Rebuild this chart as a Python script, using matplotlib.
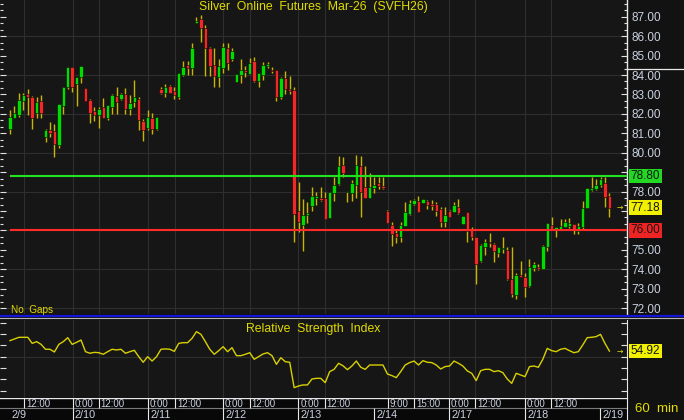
import matplotlib
matplotlib.use("Agg")
import matplotlib.pyplot as plt
import matplotlib.transforms as mtransforms
from matplotlib.lines import Line2D
from matplotlib.ticker import MultipleLocator, FuncFormatter

plt.rcParams['font.family'] = ['Liberation Sans', 'DejaVu Sans']

# --- data (60 min bars, SVFH26) ---
opens = [
    81.20, 81.77, 81.94, 82.68, 83.02, 82.88, 82.03, 82.66, 80.79, 81.17,
    81.12, 80.40, 82.40, 83.37, 84.39, 83.54, 83.88, 83.31, 82.71, 82.16,
    81.94, 82.37, 81.77, 82.37, 82.92, 82.76, 83.02, 82.23, 82.63, 82.76,
    81.65, 81.26, 81.77, 81.20, 83.26, 83.06, 83.43, 83.19, 82.88, 84.00,
    84.51, 84.34, 86.66, 86.86, 86.44, 85.41, 84.51, 83.91, 84.34, 85.41,
    84.81, 83.66, 84.00, 84.26, 84.05, 84.72, 83.71, 84.00, 84.46, 84.26,
    84.26, 82.85, 83.83, 83.26, 83.23, 77.00, 76.28, 76.82, 77.26, 77.67,
    77.67, 77.67, 76.66, 77.93, 78.37, 79.37, 77.99, 77.94, 78.34, 79.32,
    78.25, 77.65, 78.17, 78.43, 78.30, 77.00, 76.28, 75.88, 75.65, 76.23,
    76.85, 77.36, 77.53, 77.40, 77.53, 77.36, 77.36, 77.09, 76.45, 77.02,
    76.96, 77.22, 76.33, 76.96, 76.02, 75.65, 74.44, 75.13, 75.42, 75.30,
    74.82, 75.03, 74.99, 73.48, 72.68, 73.71, 73.59, 73.14, 74.05, 74.13,
    74.00, 75.13, 76.28, 76.06, 76.06, 76.19, 76.23, 76.33, 75.99, 76.16,
    77.14, 78.08, 78.12, 78.34, 78.43, 77.77]
highs = [
    82.20, 82.40, 83.09, 83.09, 83.26, 82.92, 82.88, 82.97, 81.20, 81.60,
    81.48, 82.51, 83.37, 84.39, 84.39, 83.88, 84.46, 83.31, 82.78, 82.34,
    82.34, 82.80, 82.46, 83.00, 83.37, 83.06, 83.31, 82.97, 83.74, 82.85,
    81.72, 82.20, 82.03, 81.86, 83.37, 83.54, 83.49, 83.37, 84.12, 84.72,
    84.72, 85.63, 86.97, 87.09, 86.57, 85.46, 85.37, 84.81, 85.63, 85.63,
    85.41, 84.05, 84.81, 84.46, 84.86, 84.91, 84.12, 84.69, 84.69, 84.43,
    84.26, 83.88, 84.22, 83.95, 83.40, 78.51, 77.62, 77.48, 78.25, 77.99,
    78.25, 77.99, 77.99, 78.77, 79.83, 79.80, 77.99, 78.60, 79.88, 79.83,
    79.32, 78.94, 78.77, 78.77, 78.77, 77.05, 76.45, 76.07, 76.45, 77.48,
    77.57, 77.60, 77.77, 77.60, 77.57, 77.57, 77.48, 77.22, 77.22, 77.05,
    77.45, 77.60, 76.74, 76.96, 76.16, 75.68, 75.30, 75.54, 75.85, 75.34,
    75.16, 75.65, 75.13, 75.13, 73.79, 74.44, 73.82, 74.51, 74.39, 74.27,
    75.25, 76.40, 76.68, 76.19, 76.57, 76.57, 76.62, 76.33, 76.40, 77.53,
    78.17, 78.77, 78.63, 78.77, 78.73, 77.94]
lows = [
    80.96, 81.77, 81.82, 82.20, 81.94, 81.20, 81.77, 81.77, 80.57, 80.79,
    79.76, 80.23, 81.98, 83.26, 83.14, 82.40, 83.61, 82.68, 81.51, 81.65,
    81.29, 81.77, 81.68, 81.99, 81.99, 82.71, 81.98, 81.94, 82.34, 81.17,
    80.62, 81.17, 80.96, 81.17, 83.02, 82.88, 83.09, 82.75, 82.75, 83.95,
    84.00, 84.00, 86.66, 85.72, 83.95, 83.95, 83.37, 83.37, 84.09, 84.26,
    84.72, 83.66, 83.61, 83.88, 84.05, 83.66, 83.37, 83.74, 84.34, 84.09,
    82.68, 82.76, 83.02, 83.02, 75.42, 75.93, 74.96, 76.37, 77.02, 77.31,
    77.53, 76.57, 76.64, 77.53, 78.34, 78.77, 77.48, 77.53, 77.65, 76.68,
    77.65, 77.65, 77.91, 78.12, 78.12, 76.37, 75.20, 75.37, 75.42, 76.23,
    76.79, 77.31, 76.96, 77.40, 77.09, 77.05, 76.74, 76.16, 76.16, 76.71,
    76.96, 76.85, 76.33, 75.42, 75.51, 73.24, 74.39, 74.74, 75.16, 74.39,
    74.62, 74.85, 73.45, 72.59, 72.46, 73.59, 72.59, 73.10, 73.93, 73.96,
    74.00, 74.96, 76.02, 75.65, 76.06, 76.16, 76.11, 75.82, 75.82, 76.06,
    77.14, 78.05, 78.08, 78.25, 77.22, 76.68]
closes = [
    81.82, 82.03, 82.71, 82.97, 82.88, 81.77, 82.63, 82.06, 81.17, 81.03,
    80.45, 82.51, 83.37, 84.39, 83.40, 83.88, 84.46, 82.68, 82.06, 81.94,
    82.25, 81.80, 82.46, 82.97, 82.63, 83.02, 82.23, 82.58, 82.85, 81.68,
    81.17, 81.82, 81.20, 81.82, 83.09, 83.40, 83.09, 82.97, 84.12, 84.39,
    84.37, 85.37, 86.80, 86.40, 85.37, 84.46, 83.95, 84.46, 85.46, 84.63,
    85.25, 84.05, 84.26, 84.17, 84.63, 83.71, 84.09, 84.51, 84.57, 84.20,
    82.85, 83.83, 83.26, 83.19, 76.85, 76.45, 76.79, 76.87, 77.79, 77.77,
    77.59, 76.59, 77.99, 78.34, 79.32, 78.94, 77.99, 78.43, 79.37, 77.99,
    77.65, 78.22, 78.34, 78.29, 78.20, 76.37, 75.82, 75.65, 76.28, 76.96,
    77.43, 77.57, 76.96, 77.60, 77.31, 77.26, 77.02, 76.45, 76.82, 76.71,
    77.31, 76.88, 76.74, 75.99, 75.68, 74.27, 75.25, 75.42, 75.34, 74.96,
    75.13, 75.05, 73.48, 72.73, 73.71, 73.59, 73.10, 74.13, 74.27, 74.03,
    75.20, 76.40, 76.02, 76.16, 76.23, 76.45, 76.37, 76.02, 76.23, 77.14,
    78.17, 78.17, 78.34, 78.63, 77.74, 77.18]
rsi = [
    64.1, 65.5, 67.0, 67.0, 67.0, 61.7, 63.2, 60.8, 56.5, 56.5,
    54.1, 60.8, 63.2, 66.7, 60.8, 62.6, 64.6, 54.4, 53.0, 53.8,
    53.5, 52.1, 54.4, 56.5, 55.9, 56.5, 53.0, 54.4, 55.6, 50.0,
    45.1, 50.0, 46.2, 50.0, 56.5, 56.8, 56.5, 54.7, 61.7, 62.3,
    62.3, 66.1, 72.0, 69.6, 63.2, 56.5, 52.1, 55.3, 58.8, 54.4,
    57.9, 50.9, 50.9, 52.1, 53.5, 47.7, 50.0, 52.4, 53.5, 50.9,
    43.3, 49.1, 45.6, 45.1, 22.8, 24.3, 25.2, 25.2, 30.4, 31.0,
    31.0, 27.2, 36.9, 38.9, 44.2, 42.0, 38.6, 41.8, 46.2, 40.7,
    38.9, 42.7, 42.7, 42.7, 42.7, 34.8, 33.4, 31.6, 36.9, 42.7,
    44.8, 46.2, 42.7, 46.5, 45.1, 44.8, 42.7, 39.2, 41.3, 41.8,
    46.2, 44.2, 41.8, 37.5, 35.4, 29.0, 37.7, 38.9, 38.9, 36.9,
    37.7, 36.0, 30.4, 26.6, 35.4, 33.9, 32.5, 41.3, 41.8, 40.7,
    47.7, 57.3, 55.3, 54.4, 56.5, 57.3, 55.3, 53.5, 54.4, 60.3,
    66.7, 67.0, 67.6, 69.6, 61.7, 54.92]
assert len(opens) == len(highs) == len(lows) == len(closes) == len(rsi)

resistance = 78.80
support = 76.00
prev_settle = 84.29

# x axis: bar positions where time / date labels start
time_ticks = [3.2, 14.1, 20.0, 31.1, 37.2, 48.0, 54.0, 64.9, 70.9, 85.1,
              91.0, 98.9, 104.7, 116.0, 121.9]
time_labels = ['12:00', '0:00', '12:00', '0:00', '12:00', '0:00', '12:00',
               '0:00', '12:00', '9:00', '15:00', '0:00', '12:00', '0:00', '12:00']
date_ticks = [-0.1, 14.1, 31.1, 48.0, 64.9, 82.0, 98.9, 116.0, 132.9]
date_labels = ['2/9', '2/10', '2/11', '2/12', '2/13', '2/14', '2/17', '2/18', '2/19']

GREEN = '#00dc00'
RED = '#f02828'
WICK = '#c9b400'
YEL = '#e2dc00'
LBL = '#c8d0e0'
GRID = '#2e2e2e'
BG = '#161616'

W, H = 684, 420
fig = plt.figure(figsize=(W / 100, H / 100), dpi=100, facecolor='#121212')


def px_box(left, top, w, h):
    return [left / W, 1 - (top + h) / H, w / W, h / H]


bar_px = 4.44
xlim = (-10 / bar_px, (627 - 10) / bar_px)

ax = fig.add_axes(px_box(0, 0, 627, 314), facecolor=BG)
axr = fig.add_axes(px_box(0, 320, 627, 77.7), facecolor=BG)
axl = fig.add_axes(px_box(0, 397.7, 627, 22.3), facecolor='#080808')

# --- price panel ---
xs = list(range(len(closes)))
ax.vlines(xs, lows, highs, color=WICK, lw=1.0, zorder=3)
body_bottom = [min(o, c) for o, c in zip(opens, closes)]
body_h = [max(abs(c - o), 0.06) for o, c in zip(opens, closes)]
body_col = [GREEN if c >= o else RED for o, c in zip(opens, closes)]
ax.bar(xs, body_h, bottom=body_bottom, width=0.78, color=body_col,
       edgecolor='#050505', linewidth=0.4, zorder=4)

ax.hlines(resistance, 0, xlim[1], color='#22e022', lw=1.5, zorder=5)
ax.hlines(support, 0, xlim[1], color='#ff2a2a', lw=1.5, zorder=5)

for lv in range(72, 87, 2):
    ax.axhline(lv, color=GRID, lw=0.8, zorder=1)
for t in time_ticks:
    ax.axvline(t, color=GRID, lw=0.8, zorder=1)
    axr.axvline(t, color=GRID, lw=0.8, zorder=1)

# price labels sitting under a coloured value box are hidden by it
boxed = [resistance, support, closes[-1]]


def price_fmt(v, pos):
    if any(abs(v - b) < 0.5 for b in boxed):
        return ''
    return f'{v:.2f}'


ax.set_xlim(*xlim)
ax.set_ylim(71.70, 87.86)
ax.set_xticks([])
ax.yaxis.set_major_locator(MultipleLocator(1))
ax.yaxis.set_minor_locator(MultipleLocator(1 / 3))
ax.yaxis.set_major_formatter(FuncFormatter(price_fmt))
ax.tick_params(axis='y', which='both', direction='in', left=True, right=True,
               labelleft=False, labelright=True, color='#e0e0e0',
               labelcolor=LBL, labelsize=8.5, pad=3, width=0.8)
ax.tick_params(axis='y', which='major', length=4)
ax.tick_params(axis='y', which='minor', length=2)
for s in ['left', 'top', 'bottom']:
    ax.spines[s].set_visible(False)
ax.spines['right'].set_color('#e8e8e8')
ax.spines['right'].set_linewidth(1)

ax.axhline(prev_settle, xmin=1.0, xmax=W / 627, color='#e8e8e8', lw=0.9,
           clip_on=False)

ax.text(0.5, 1 - 7 / 314, 'Silver  Online  Futures  Mar-26  (SVFH26)',
        transform=ax.transAxes, ha='center', va='center', color=YEL,
        fontsize=8.8)
ax.text(11 / 627, 4 / 314, 'No  Gaps', transform=ax.transAxes, ha='left',
        va='center', color=YEL, fontsize=7.2)

for val, fc in [(resistance, '#22d822'), (support, '#ee2424'),
                (closes[-1], '#f0f000')]:
    ax.text(1.006, val, f'{val:.2f}', transform=ax.get_yaxis_transform(),
            ha='left', va='center', fontsize=8.5, color='#151515',
            bbox=dict(boxstyle='square,pad=0.12', fc=fc, ec='none'),
            clip_on=False, zorder=10)
ax.text(137.3, closes[-1], '→', ha='center', va='center', color=YEL,
        fontsize=5.5, family='DejaVu Sans')

# --- RSI panel ---
axr.plot(xs, rsi, color='#d8d000', lw=1.0, zorder=3)
axr.axhline(50, color=GRID, lw=0.8, zorder=1)
axr.set_xlim(*xlim)
axr.set_ylim(14.0, 82.2)
axr.set_xticks([])
rsi_ticks = [20, 30, 40, 50, 60, 70, 80]
axr.set_yticks(rsi_ticks)
axr.tick_params(axis='y', direction='in', left=True, right=True,
                labelleft=False, labelright=False, color='#e0e0e0',
                length=4, width=0.8)
for s in ['left', 'top', 'bottom']:
    axr.spines[s].set_visible(False)
axr.spines['right'].set_color('#e8e8e8')
axr.text(0.5, 0.88, 'Relative  Strength  Index', transform=axr.transAxes,
         ha='center', va='center', color=YEL, fontsize=8.8)
axr.text(1.006, rsi[-1], f'{rsi[-1]:.2f}', transform=axr.get_yaxis_transform(),
         ha='left', va='center', fontsize=8.5, color='#151515',
         bbox=dict(boxstyle='square,pad=0.12', fc='#f0f000', ec='none'),
         clip_on=False, zorder=10)
axr.text(137.3, rsi[-1], '→', ha='center', va='center', color=YEL,
         fontsize=5.5, family='DejaVu Sans')

# --- time / date label rows ---
axl.set_xlim(*xlim)
axl.set_ylim(0, 22.3)
axl.set_xticks([])
axl.set_yticks([])
for s in ['left', 'top', 'bottom']:
    axl.spines[s].set_visible(False)
axl.spines['right'].set_color('#e8e8e8')
axl.axhline(22.0, color='#e8e8e8', lw=1)
axl.axhline(11.8, color='#7a7a7a', lw=0.8)
axl.vlines(time_ticks, 11.8, 22.3, color='#e8e8e8', lw=0.8)
axl.vlines(date_ticks[1:], 0, 11.8, color='#e8e8e8', lw=0.8)
shifted = mtransforms.offset_copy(axl.transData, fig=fig, x=2, y=0, units='dots')
for t, lab in zip(time_ticks, time_labels):
    axl.text(t, 16.2, lab, transform=shifted, ha='left', va='center',
             color=LBL, fontsize=7)
for t, lab in zip(date_ticks, date_labels):
    axl.text(t, 5.2, lab, transform=shifted, ha='left', va='center',
             color=LBL, fontsize=7.8)

# panel separators
fig.add_artist(Line2D([0, 1], [1 - 315.5 / H] * 2, transform=fig.transFigure,
                      color='#1414d8', lw=1.6))
fig.add_artist(Line2D([0, 1], [1 - 318.3 / H] * 2, transform=fig.transFigure,
                      color='#b4b4b4', lw=0.8))
fig.text(635 / W, 1 - 409 / H, '60  min', color=YEL, fontsize=9.5,
         ha='left', va='center')

fig.savefig('out.png', dpi=100, facecolor=fig.get_facecolor())
